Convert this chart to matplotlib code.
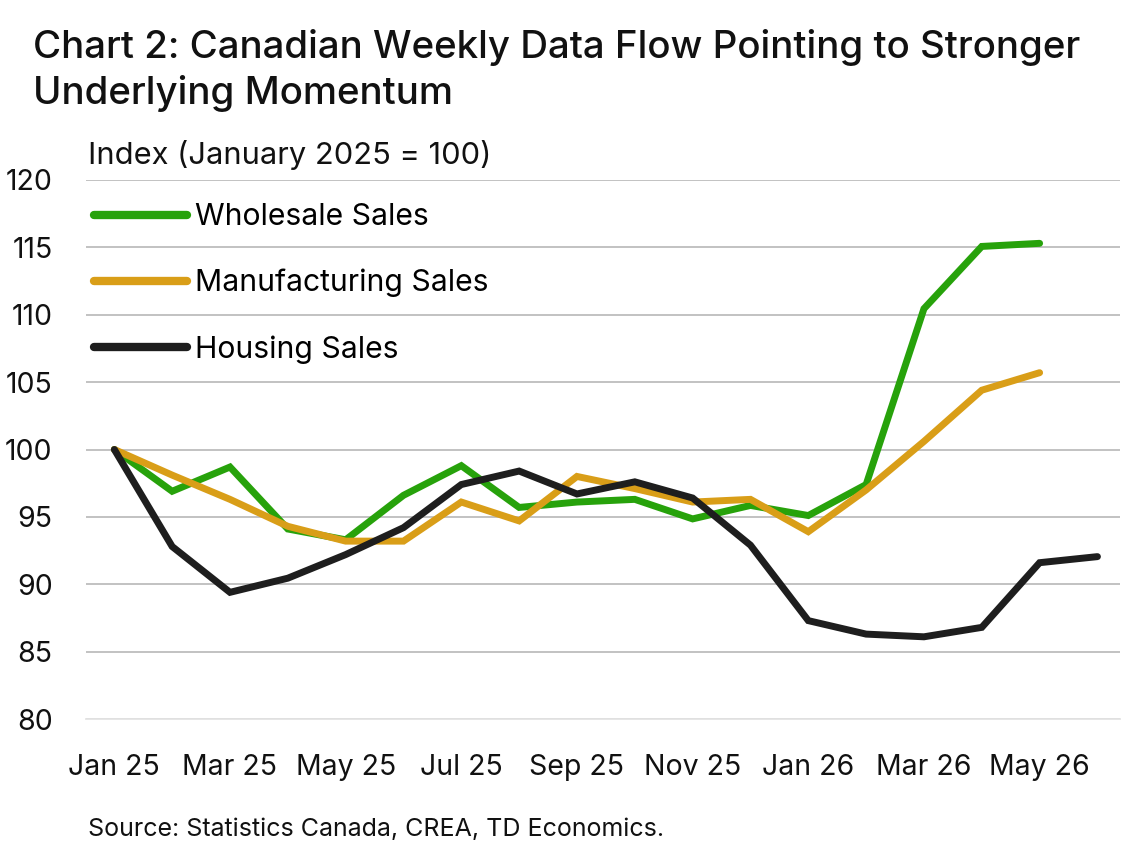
import matplotlib
matplotlib.use("Agg")
import matplotlib.pyplot as plt

# data (index, Jan 2025 = 100)
months = ["Jan 25", "Feb 25", "Mar 25", "Apr 25", "May 25", "Jun 25", "Jul 25", "Aug 25",
          "Sep 25", "Oct 25", "Nov 25", "Dec 25", "Jan 26", "Feb 26", "Mar 26", "Apr 26",
          "May 26", "Jun 26"]
wholesale = [100, 96.9, 98.7, 94.1, 93.3, 96.6, 98.8, 95.7, 96.1, 96.3, 94.85, 95.85,
             95.1, 97.4, 110.45, 115.07, 115.3]
manufacturing = [100, 98.1, 96.3, 94.3, 93.2, 93.2, 96.1, 94.7, 98.0, 97.1, 96.1, 96.3,
                 93.9, 97.0, 100.6, 104.4, 105.7]
housing = [100, 92.8, 89.4, 90.45, 92.2, 94.2, 97.4, 98.4, 96.7, 97.6, 96.4, 92.9,
           87.3, 86.3, 86.1, 86.8, 91.6, 92.05]

plt.rcParams["font.family"] = ["Inter", "DejaVu Sans"]

GREEN = "#27A20B"
ORANGE = "#D99E18"
BLACK = "#1E1E1E"

fig = plt.figure(figsize=(11.39, 8.5), dpi=100)
ax = fig.add_axes([86 / 1139, 131 / 850, (1120 - 86) / 1139, (719 - 180) / 850])

ax.plot(range(len(wholesale)), wholesale, color=GREEN, lw=5, solid_capstyle="round",
        solid_joinstyle="miter", label="Wholesale Sales", zorder=3)
ax.plot(range(len(manufacturing)), manufacturing, color=ORANGE, lw=5, solid_capstyle="round",
        solid_joinstyle="miter", label="Manufacturing Sales", zorder=4)
ax.plot(range(len(housing)), housing, color=BLACK, lw=5, solid_capstyle="round",
        solid_joinstyle="miter", label="Housing Sales", zorder=5)

ax.set_xlim(-0.49, 17.39)
ax.set_ylim(80, 120)
ax.set_yticks(range(80, 121, 5))
ax.set_xticks(range(0, 17, 2))
ax.set_xticklabels(months[0:17:2])
ax.grid(axis="y", color="#BDBDBD", lw=1.3)
ax.set_axisbelow(True)
for s in ["top", "right", "left"]:
    ax.spines[s].set_visible(False)
ax.spines["bottom"].set_color("#E4E4E4")
ax.spines["bottom"].set_linewidth(1.3)
ax.tick_params(axis="both", length=0, labelsize=20.5, colors="#111111")
ax.tick_params(axis="y", pad=24)
ax.tick_params(axis="x", pad=25)

leg = ax.legend(loc="upper left", bbox_to_anchor=(-0.013, 0.996), frameon=False,
                fontsize=21.7, handlelength=3.1, handletextpad=0.25, labelspacing=1.25,
                borderaxespad=0.3)
for ln in leg.get_lines():
    ln.set_linewidth(6)

fig.text(33 / 1139, 1 - 47 / 850, "Chart 2: Canadian Weekly Data Flow Pointing to Stronger",
         fontsize=27.7, fontweight="medium", va="center", ha="left", color="#111111")
fig.text(33 / 1139, 1 - 94 / 850, "Underlying Momentum",
         fontsize=27.7, fontweight="medium", va="center", ha="left", color="#111111")
fig.text(88 / 1139, 1 - 155 / 850, "Index (January 2025 = 100)",
         fontsize=22.2, va="center", ha="left", color="#111111")
fig.text(88 / 1139, 1 - 829 / 850, "Source: Statistics Canada, CREA, TD Economics.",
         fontsize=18, va="center", ha="left", color="#111111")

fig.savefig("out.png", dpi=100)
